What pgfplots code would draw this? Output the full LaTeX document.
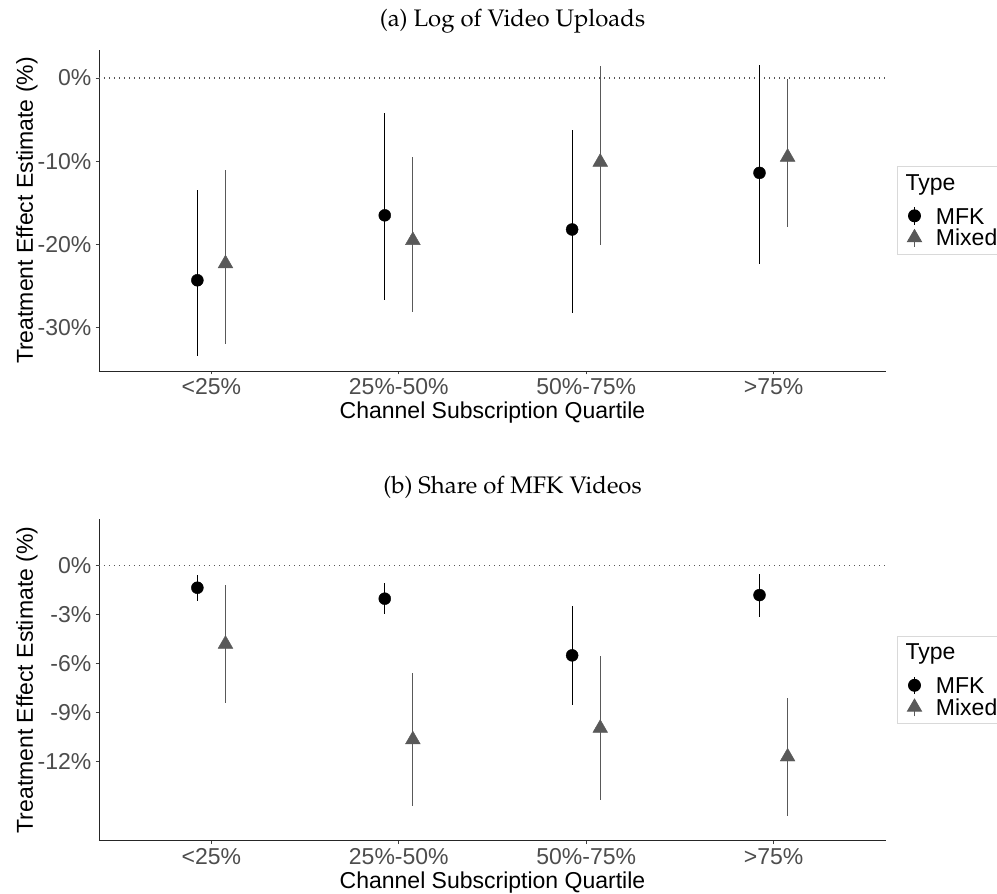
\documentclass[border=0pt]{standalone}
\usepackage[T1]{fontenc}
\usepackage{fontspec}
\setmainfont{Liberation Sans}
\usepackage{pgfplots}
\usepackage{pgfplotstable}
\pgfplotsset{compat=1.18}
\definecolor{mixgray}{RGB}{89,89,89}
\definecolor{ticktext}{RGB}{77,77,77}
\definecolor{legframe}{RGB}{217,217,217}
\definecolor{dotgray}{RGB}{85,85,85}
\newcommand\ttlfont{\fontencoding{T1}\fontfamily{ppl}\fontsize{23.9}{28}\selectfont}
\newcommand\bigfont{\fontsize{23}{27}\selectfont}

% panel (a): x, y, lo, hi
\pgfplotstableread{
x y lo hi
0.925 -24.3 -33.4 -13.4
1.925 -16.5 -26.7 -4.2
2.925 -18.2 -28.2 -6.3
3.925 -11.4 -22.3 1.6
}\mfkA
\pgfplotstableread{
x y lo hi
1.075 -22.3 -31.9 -11.1
2.075 -19.5 -28.1 -9.5
3.075 -10.1 -20.1 1.4
4.075 -9.5 -17.9 -0.1
}\mixA
% panel (b)
\pgfplotstableread{
x y lo hi
0.925 -1.35 -2.16 -0.57
1.925 -2.02 -2.94 -1.08
2.925 -5.49 -8.51 -2.47
3.925 -1.80 -3.12 -0.53
}\mfkB
\pgfplotstableread{
x y lo hi
1.075 -4.80 -8.43 -1.18
2.075 -10.65 -14.70 -6.57
3.075 -9.95 -14.33 -5.53
4.075 -11.70 -15.31 -8.08
}\mixB

\pgfplotsset{
 myaxis/.style={
  scale only axis, width=787pt,
  xmin=0.4, xmax=4.6,
  axis x line*=bottom, axis y line*=left,
  axis line style={-, black!85, line width=0.9pt},
  xtick={1,2,3,4},
  xticklabels={{<25\%},{25\%-50\%},{50\%-75\%},{>75\%}},
  tick align=outside, major tick length=3.4pt,
  tick style={black!75, line width=0.9pt},
  /pgf/number format/assume math mode=true,
  yticklabel={\pgfmathprintnumber{\tick}\%},
  ticklabel style={font=\bigfont, text=ticktext},
  xticklabel style={anchor=base, inner sep=0pt, yshift=-20pt},
  yticklabel style={anchor=east, inner sep=0pt, xshift=-4pt},
  xlabel={Channel Subscription Quartile},
  ylabel={Treatment Effect Estimate (\%)},
  label style={font=\bigfont},
  xlabel style={at={(axis description cs:0.5,-0.1495)}, anchor=base, inner sep=0pt},
  ylabel style={at={(axis description cs:-0.0839,0.5)}, anchor=base, inner sep=0pt},
  clip=false,
  legend style={at={(1,0.5)}, anchor=west, xshift=11pt,
    draw=legframe, line width=0.9pt, fill=white,
    inner xsep=8.6pt, inner ysep=8pt,
    font=\bigfont, nodes={inner sep=0pt, text depth=0pt},
    cells={anchor=base west}, column sep=13pt},
 },
 mfkkey/.style={legend image code/.code={
   \path (0pt,0pt) (16pt,0pt);
   \draw[overlay, black, line width=1.1pt] (8pt,-0.5pt) -- (8pt,17pt);
   \fill[overlay, black] (8pt,8.25pt) circle (6pt);}},
 mixkey/.style={legend image code/.code={
   \path (0pt,0pt) (16pt,0pt);
   \draw[overlay, mixgray, line width=1.1pt] (8pt,-1pt) -- (8pt,16pt);
   \fill[overlay, mixgray] (8pt,16.25pt) -- (15pt,4.25pt) -- (1pt,4.25pt) -- cycle;}},
 mfkplot/.style={black, only marks, mark=*, mark size=6pt, forget plot,
   error bars/.cd, y dir=both, y explicit, error mark=none,
   error bar style={black, line width=1.1pt}},
 mixplot/.style={mixgray, only marks, mark=triangle*, mark size=8.5pt, forget plot,
   error bars/.cd, y dir=both, y explicit, error mark=none,
   error bar style={mixgray, line width=1.1pt}},
}

\begin{document}
\begin{tikzpicture}
\useasboundingbox (0pt,0pt) rectangle (997pt,-894pt);
\fill[white] (0pt,0pt) rectangle (997pt,-894pt);

\node[anchor=base, font=\ttlfont] at (512.5pt,-26pt) {(a) Log of Video Uploads};
\node[anchor=base, font=\ttlfont] at (512.5pt,-493.3pt) {(b) Share of MFK Videos};

\begin{axis}[myaxis, at={(99pt,-371pt)}, anchor=south west, height=321pt,
  ymin=-35.2, ymax=3.36, ytick={-30,-20,-10,0}]
\addplot[forget plot, dotgray, line width=1.1pt, dash pattern=on 1.1pt off 3.9pt] coordinates {(0.4,0) (4.6,0)};
\addplot[mfkplot] table[x=x, y=y, y error plus expr=\thisrow{hi}-\thisrow{y}, y error minus expr=\thisrow{y}-\thisrow{lo}] {\mfkA};
\addplot[mixplot] table[x=x, y=y, y error plus expr=\thisrow{hi}-\thisrow{y}, y error minus expr=\thisrow{y}-\thisrow{lo}] {\mixA};
\addlegendimage{empty legend}
\addlegendentry{\hspace{-30.3pt}Type}
\addlegendimage{mfkkey}
\addlegendentry{\rule{0pt}{33.6pt}MFK}
\addlegendimage{mixkey}
\addlegendentry{\rule{0pt}{21.4pt}Mixed}
\end{axis}

\begin{axis}[myaxis, at={(99pt,-840.7pt)}, anchor=south west, height=321.4pt,
  ymin=-16.84, ymax=2.84, ytick={-12,-9,-6,-3,0}]
\addplot[forget plot, dotgray, line width=1.1pt, dash pattern=on 1.1pt off 3.9pt] coordinates {(0.4,0) (4.6,0)};
\addplot[mfkplot] table[x=x, y=y, y error plus expr=\thisrow{hi}-\thisrow{y}, y error minus expr=\thisrow{y}-\thisrow{lo}] {\mfkB};
\addplot[mixplot] table[x=x, y=y, y error plus expr=\thisrow{hi}-\thisrow{y}, y error minus expr=\thisrow{y}-\thisrow{lo}] {\mixB};
\addlegendimage{empty legend}
\addlegendentry{\hspace{-30.3pt}Type}
\addlegendimage{mfkkey}
\addlegendentry{\rule{0pt}{33.6pt}MFK}
\addlegendimage{mixkey}
\addlegendentry{\rule{0pt}{21.4pt}Mixed}
\end{axis}
\end{tikzpicture}
\end{document}
